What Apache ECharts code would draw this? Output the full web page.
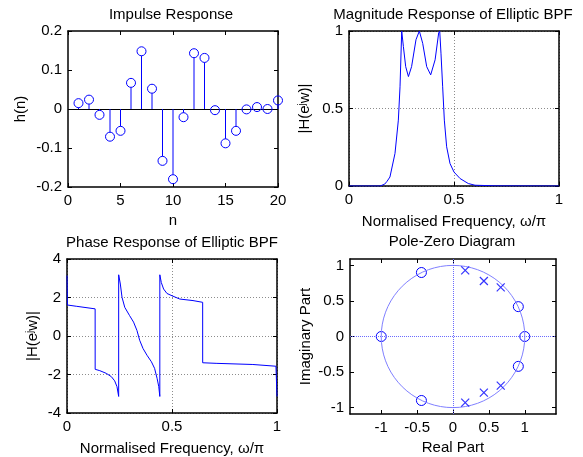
<!DOCTYPE html>
<html><head><meta charset="utf-8">
<script src="https://cdn.jsdelivr.net/npm/echarts@6/dist/echarts.min.js"></script>
<style>html,body{margin:0;padding:0;background:#fff}#c{width:583px;height:457px}</style>
</head><body><div id="c"></div>
<script>
// ---- Data ----
const impulseN = [1,2,3,4,5,6,7,8,9,10,11,12,13,14,15,16,17,18,19,20];
const impulseH = [0.015,0.024,-0.015,-0.071,-0.056,0.067,0.148,0.052,-0.133,-0.180,-0.021,0.143,0.131,-0.003,-0.088,-0.056,-0.001,0.005,0.000,0.022];

const magFreq = [0,0.10,0.148,0.17,0.181,0.195,0.219,0.235,0.243,0.251,0.259,0.27,0.283,0.298,0.319,0.335,0.351,0.37,0.389,0.41,0.427,0.432,0.438,0.446,0.454,0.465,0.481,0.5,0.529,0.568,0.6,0.7,1.0];
const magVal  = [0,0,0,0.012,0.03,0.058,0.21,0.425,0.64,1.0,0.90,0.77,0.706,0.77,0.944,1.0,0.92,0.77,0.717,0.814,0.987,1.0,0.857,0.64,0.425,0.253,0.145,0.09,0.048,0.016,0.005,0.001,0];

const phFreq = [0,0.002,0.044,0.134,0.1341,0.156,0.187,0.211,0.227,0.238,0.246,0.2461,0.254,0.262,0.275,0.298,0.317,0.333,0.346,0.362,0.381,0.402,0.417,0.429,0.437,0.442,0.4421,0.449,0.46,0.476,0.5,0.537,0.6,0.646,0.6461,0.71,0.885,0.995,1.0];
const phVal  = [3.14,1.61,1.545,1.41,-1.73,-1.80,-1.94,-2.11,-2.33,-2.63,-3.14,3.18,2.70,2.01,1.49,1.06,0.72,0.29,-0.22,-0.65,-1.0,-1.34,-1.68,-2.2,-2.63,-3.14,3.18,2.78,2.44,2.21,2.09,1.92,1.84,1.75,-1.39,-1.42,-1.48,-1.57,-3.14];

const zerosRe = [-1,1,-0.44,-0.44,0.91,0.91];
const zerosIm = [0,0,0.90,-0.90,0.42,-0.42];
const polesRe = [0.17,0.43,0.665,0.17,0.43,0.665];
const polesIm = [0.93,0.78,0.69,-0.93,-0.79,-0.69];

const pzTicks = [-1,-0.5,0,0.5,1];
const titles = ['Impulse Response','Magnitude Response of Elliptic BPF','Phase Response of Elliptic BPF','Pole-Zero Diagram'];

// unit circle (geometric guide, x^2+y^2=1)
const unitCircle = [];
for (let k = 0; k <= 72; k++) { const t = k/72*2*Math.PI; unitCircle.push([Math.cos(t), Math.sin(t)]); }

// ---- Chart ----
const FONT = "'Liberation Sans', Arial, sans-serif";
const BLUE = '#0000ff';
const TXT = {color:'#000', fontSize:15, fontFamily:FONT};
const grids = [
  {left:68, top:31, width:210, height:156},
  {left:349, top:31, width:210, height:155},
  {left:67, top:259, width:210, height:154},
  {left:350, top:259, width:206, height:155}
];
const gridLine = {show:true, lineStyle:{color:'#8c8c8c', type:[1,2], width:1}};

function axes(dim, g, o) {
  const common = {type:'value', gridIndex:g, min:o.min, max:o.max, scale:false};
  if (o.interval != null) common.interval = o.interval;
  const line = {show:true, onZero:false, lineStyle:{color:'#000', width:1.5}};
  const tick = {show:true, inside:true, length:4, lineStyle:{color:'#000', width:1}};
  if (o.custom) tick.customValues = o.custom;
  const lab = Object.assign({show:true, margin:6, showMinLabel:true, showMaxLabel:true}, TXT);
  if (o.custom) lab.customValues = o.custom;
  const prim = Object.assign({}, common, {
    position: dim==='x'?'bottom':'left',
    axisLine: line, axisTick: tick, axisLabel: lab,
    splitLine: o.grid ? gridLine : {show:false},
    name: o.name, nameLocation:'middle', nameGap:o.gap,
    nameTextStyle: Object.assign({}, TXT, o.rich ? {rich:o.rich} : {})
  });
  const sec = Object.assign({}, common, {
    position: dim==='x'?'top':'right',
    axisLine: line, axisTick: tick, axisLabel:{show:false}, splitLine:{show:false}
  });
  return [prim, sec];
}
const supRich = {sup:{fontSize:10, fontFamily:FONT, color:'#000', verticalAlign:'top', padding:[0,0,6,0]}};
const hName = '|H(e{sup|j}w)|';
const freqName = 'Normalised Frequency, \u03c9/\u03c0';

const xAxes = [].concat(
  axes('x',0,{min:0,max:20,interval:5,name:'n',gap:26}),
  axes('x',1,{min:0,max:1,interval:0.5,grid:true,name:freqName,gap:28}),
  axes('x',2,{min:0,max:1,interval:0.5,grid:true,name:freqName,gap:28}),
  axes('x',3,{min:-1.435,max:1.435,custom:pzTicks,name:'Real Part',gap:26})
);
const yAxes = [].concat(
  axes('y',0,{min:-0.2,max:0.2,interval:0.1,name:'h(n)',gap:40}),
  axes('y',1,{min:0,max:1,interval:0.5,grid:true,name:hName,gap:36,rich:supRich}),
  axes('y',2,{min:-4,max:4,interval:2,grid:true,name:hName,gap:26,rich:supRich}),
  axes('y',3,{min:-1.09,max:1.09,custom:pzTicks,name:'Imaginary Part',gap:37})
);

const titleCenters = [[171,7],[453,7],[172,235],[452,234]];
const titleOpts = titles.map((t,i)=>({
  text:t, left:titleCenters[i][0], top:titleCenters[i][1], textAlign:'center', padding:0,
  textStyle:{color:'#000', fontSize:15, fontWeight:'normal', fontFamily:FONT}
}));

function ringItem(r, withStem) {
  return (params, api)=>{
    const p1 = api.coord([api.value(0), api.value(1)]);
    const children = [];
    if (withStem) {
      const p0 = api.coord([api.value(0), 0]);
      const dir = p1[1] < p0[1] ? 1 : -1;
      const len = Math.abs(p1[1]-p0[1]);
      if (len > r) children.push({type:'line', shape:{x1:p0[0],y1:p0[1],x2:p1[0],y2:p1[1]+dir*r}, style:{stroke:BLUE, lineWidth:1}});
    }
    children.push({type:'circle', shape:{cx:p1[0], cy:p1[1], r:r}, style:{stroke:BLUE, fill:null, lineWidth:1}});
    return {type:'group', children:children};
  };
}

const impulseData = impulseN.map((n,i)=>[n, impulseH[i]]);
const series = [
  {type:'custom', xAxisIndex:0, yAxisIndex:0, data:impulseData, z:3, renderItem:ringItem(4.5, true),
   markLine:{silent:true, symbol:'none', z:2, data:[{yAxis:0}], lineStyle:{color:'#000', type:'solid', width:1}, label:{show:false}}
  },
  {type:'line', xAxisIndex:2, yAxisIndex:2, data:magFreq.map((f,i)=>[f, magVal[i]]), showSymbol:false, symbol:'none',
   lineStyle:{color:BLUE, width:1}, clip:true},
  {type:'line', xAxisIndex:4, yAxisIndex:4, data:phFreq.map((f,i)=>[f, phVal[i]]), showSymbol:false, symbol:'none',
   lineStyle:{color:BLUE, width:1}, clip:true},
  {type:'line', xAxisIndex:6, yAxisIndex:6, data:unitCircle, showSymbol:false, symbol:'none',
   lineStyle:{color:'#8080ff', width:1},
   markLine:{silent:true, symbol:'none', data:[{xAxis:0},{yAxis:0}], lineStyle:{color:'#6b6bff', type:[1,1], width:1}, label:{show:false}}
  },
  {type:'custom', xAxisIndex:6, yAxisIndex:6, data:zerosRe.map((x,i)=>[x, zerosIm[i]]), z:3, renderItem:ringItem(5, false)},
  {type:'scatter', xAxisIndex:6, yAxisIndex:6, data:polesRe.map((x,i)=>[x, polesIm[i]]), symbol:'path://M0,0L10,10M10,0L0,10', symbolSize:8, z:3,
   itemStyle:{color:'rgba(0,0,0,0)', borderColor:BLUE, borderWidth:1.2}}
];

const chart = echarts.init(document.getElementById('c'), null, {renderer:'canvas'});
chart.setOption({
  animation:false,
  backgroundColor:'#fff',
  title:titleOpts,
  grid:grids.map(g=>Object.assign({containLabel:false}, g)),
  xAxis:xAxes,
  yAxis:yAxes,
  series:series
});
</script></body></html>
